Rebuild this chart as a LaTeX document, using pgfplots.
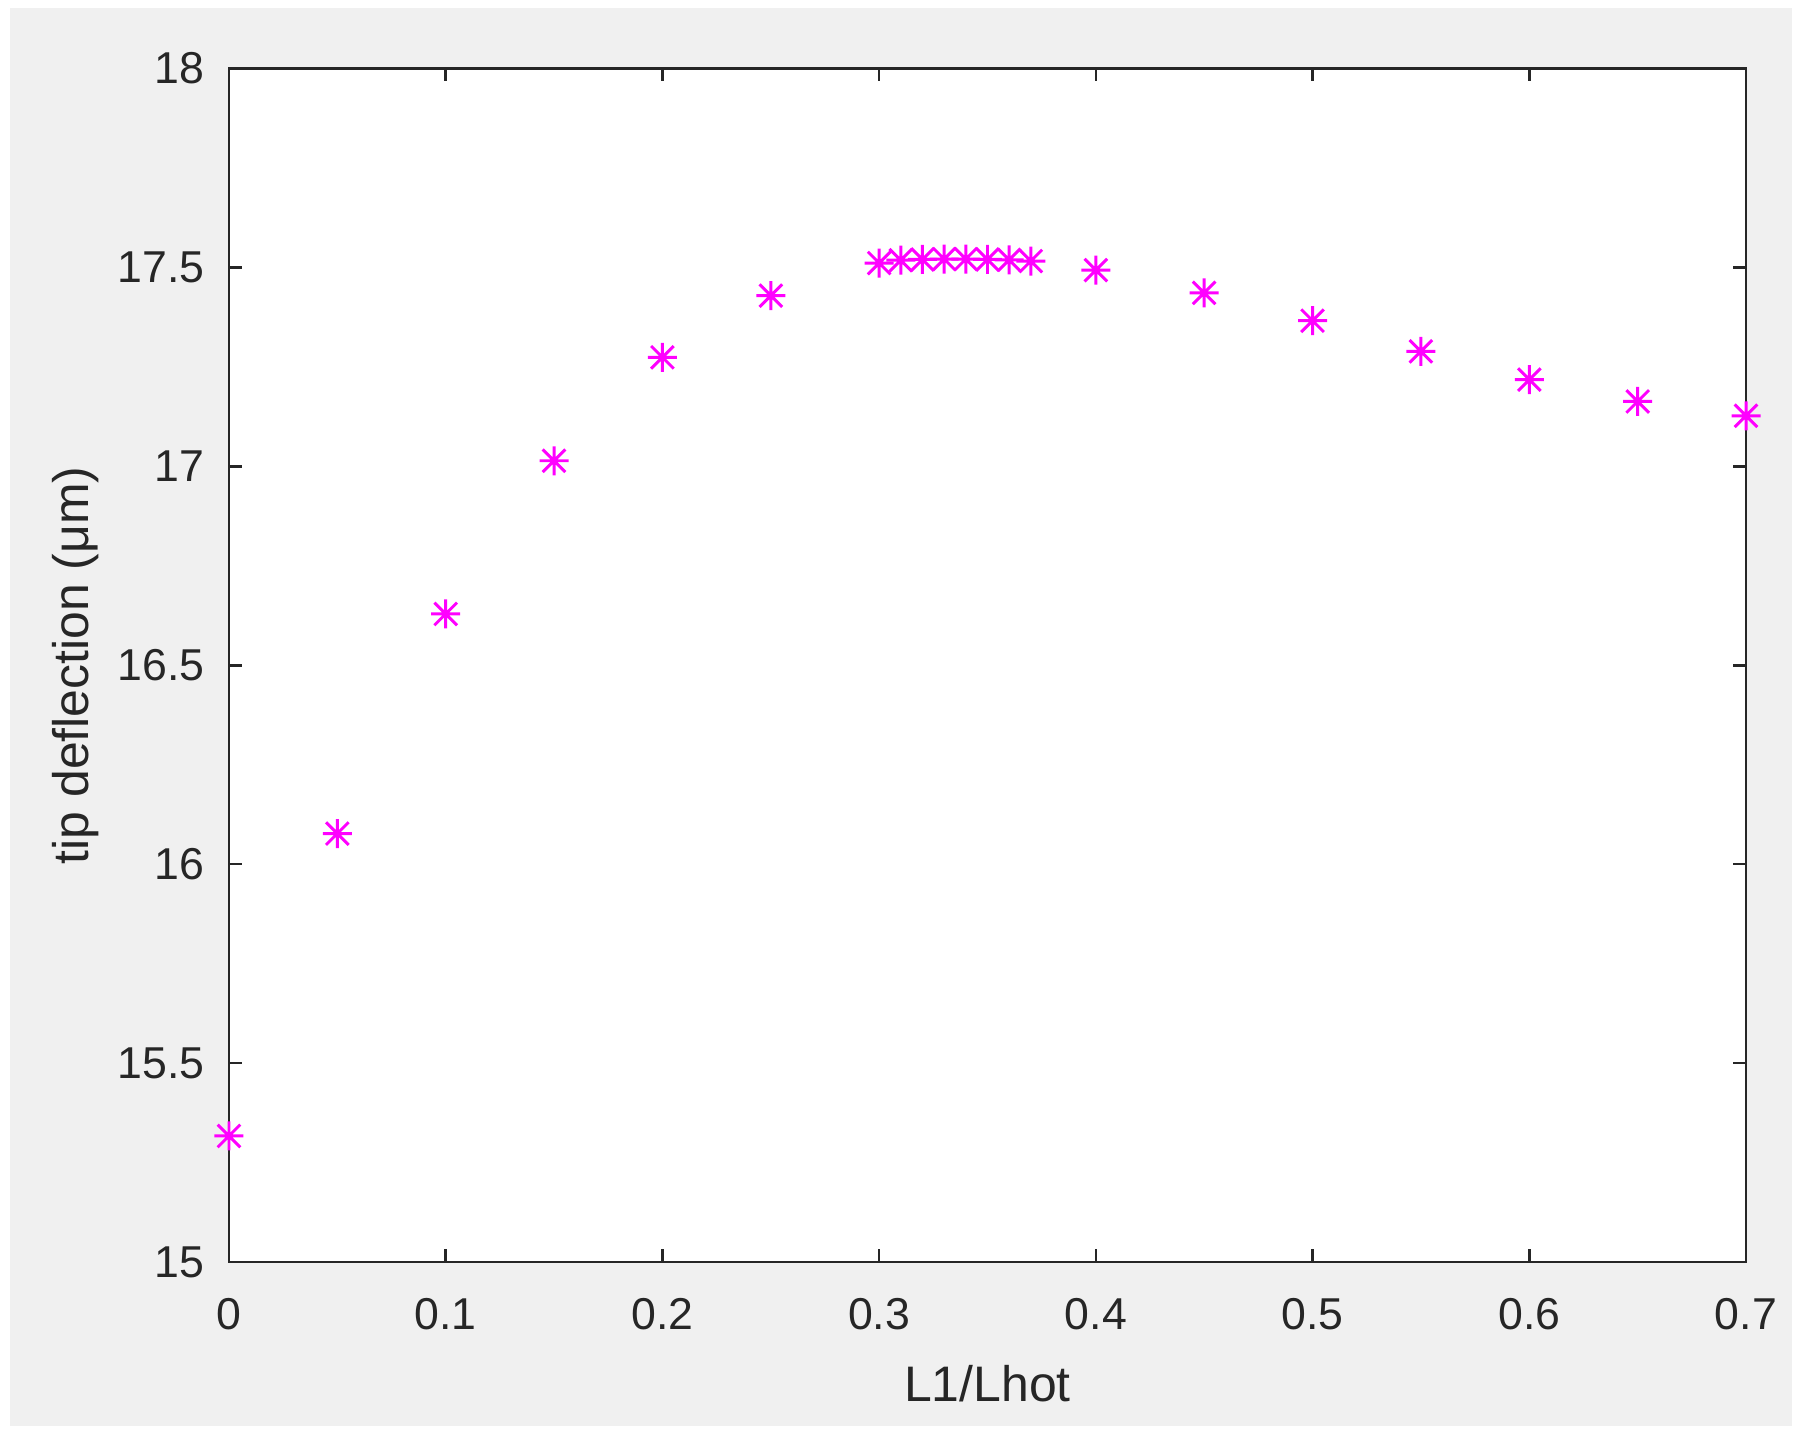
\documentclass[border=0pt]{standalone}
\usepackage{fontspec}
\setmainfont{Liberation Sans}
\usepackage{pgfplots}
\pgfplotsset{compat=1.18}

\definecolor{mtext}{HTML}{262626}
\definecolor{mbg}{HTML}{F0F0F0}
\definecolor{mmag}{RGB}{255,0,255}

% matlab style asterisk: plus and cross together
\pgfdeclareplotmark{mstar}{%
  \pgfpathmoveto{\pgfqpoint{-\pgfplotmarksize}{0pt}}%
  \pgfpathlineto{\pgfqpoint{\pgfplotmarksize}{0pt}}%
  \pgfpathmoveto{\pgfqpoint{0pt}{-\pgfplotmarksize}}%
  \pgfpathlineto{\pgfqpoint{0pt}{\pgfplotmarksize}}%
  \pgfpathmoveto{\pgfqpoint{-0.78\pgfplotmarksize}{-0.78\pgfplotmarksize}}%
  \pgfpathlineto{\pgfqpoint{0.78\pgfplotmarksize}{0.78\pgfplotmarksize}}%
  \pgfpathmoveto{\pgfqpoint{-0.78\pgfplotmarksize}{0.78\pgfplotmarksize}}%
  \pgfpathlineto{\pgfqpoint{0.78\pgfplotmarksize}{-0.78\pgfplotmarksize}}%
  \pgfusepathqstroke}

\begin{document}
\begin{tikzpicture}
\fill[white] (-22.9mm,-17.3mm) rectangle (157.0mm,126.2mm);
\fill[mbg] (-21.9mm,-16.4mm) rectangle (156.3mm,125.4mm);
\begin{axis}[
  at={(0,0)}, anchor=south west,
  scale only axis, width=151.7mm, height=119.35mm,
  xmin=0, xmax=0.7, ymin=15, ymax=18,
  xtick={0,0.1,0.2,0.3,0.4,0.5,0.6,0.7},
  ytick={15,15.5,16,16.5,17,17.5,18},
  /pgf/number format/assume math mode=true,
  tick align=inside, major tick length=1.3mm,
  axis background/.style={fill=white},
  axis line style={mtext, line width=0.75pt},
  every tick/.style={mtext, line width=0.75pt},
  ticklabel style={font=\fontsize{12.7}{15}\selectfont, text=mtext, inner sep=0pt},
  xticklabel style={anchor=north, yshift=-3.6mm},
  yticklabel style={anchor=east, xshift=-2.4mm},
  label style={font=\fontsize{14.2}{17}\selectfont, text=mtext, inner sep=0pt},
  xlabel={L1/Lhot},
  xlabel style={at={(axis description cs:0.5,-0.1173)}, anchor=base},
  ylabel={tip deflection (μm)},
  ylabel style={at={(axis description cs:-0.0928,0.5)}, anchor=base, rotate=0},
  clip=false,
]
\addplot[only marks, mark=mstar, mark size=1.45mm, mmag, line width=0.85pt] table {
x y
0.00 15.317
0.05 16.077
0.10 16.629
0.15 17.014
0.20 17.274
0.25 17.429
0.30 17.511
0.31 17.518
0.32 17.520
0.33 17.521
0.34 17.521
0.35 17.520
0.36 17.519
0.37 17.516
0.40 17.493
0.45 17.436
0.50 17.366
0.55 17.289
0.60 17.218
0.65 17.163
0.70 17.127
};
\end{axis}
\end{tikzpicture}
\end{document}
